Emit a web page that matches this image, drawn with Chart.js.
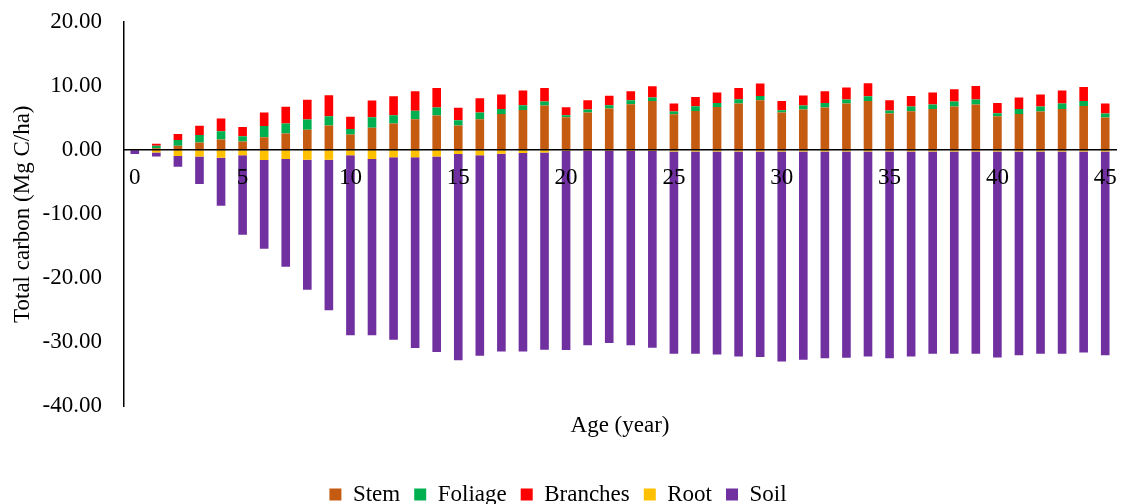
<!DOCTYPE html>
<html>
<head>
<meta charset="utf-8">
<script src="https://cdn.jsdelivr.net/npm/chart.js@4.4.1/dist/chart.umd.min.js"></script>
<style>
  html, body { margin: 0; padding: 0; background: #fff; }
  #wrap { width: 1121px; height: 504px; }
</style>
</head>
<body>
<div id="wrap"><canvas id="carbonChart" width="1121" height="504"></canvas></div>
<script>
// Stand age, years
const ages = Array.from({ length: 46 }, (_, i) => String(i));

// Above-ground pools (Mg C/ha)
const stem = [0, 0.3, 0.7, 1.2, 1.65, 1.35, 2.0, 2.6, 3.2, 3.85,
  2.45, 3.5, 4.15, 4.83, 5.4, 3.85, 4.83, 5.65, 6.28, 6.96,
  5.14, 5.87, 6.5, 7.17, 7.68, 5.6, 6.12, 6.74, 7.27, 7.79,
  5.87, 6.34, 6.65, 7.27, 7.68, 5.72, 6.07, 6.43, 6.8, 7.12,
  5.3, 5.65, 6.03, 6.43, 6.9, 5.1];
const foliage = [0, 0.4, 0.9, 1.15, 1.3, 0.83, 1.76, 1.56, 1.6, 1.45,
  0.83, 1.65, 1.3, 1.3, 1.25, 0.83, 1.04, 0.78, 0.73, 0.62,
  0.31, 0.47, 0.52, 0.62, 0.52, 0.42, 0.73, 0.62, 0.67, 0.67,
  0.36, 0.62, 0.72, 0.62, 0.73, 0.47, 0.73, 0.68, 0.78, 0.78,
  0.47, 0.78, 0.78, 0.84, 0.78, 0.62];
const branches = [0, 0.3, 0.9, 1.45, 2.0, 1.45, 2.13, 2.6, 3.07, 3.27,
  1.92, 2.6, 2.96, 3.07, 3.05, 1.92, 2.23, 2.24, 2.29, 2.12,
  1.25, 1.45, 1.45, 1.4, 1.76, 1.25, 1.45, 1.62, 1.76, 1.93,
  1.45, 1.56, 1.82, 1.87, 2.02, 1.6, 1.65, 1.87, 1.92, 2.12,
  1.6, 1.78, 1.87, 2.02, 2.18, 1.56];

// Below-ground pools (Mg C/ha), negative values
const root = [0, -0.35, -0.9, -1.0, -1.2, -0.8, -1.55, -1.4, -1.5, -1.5,
  -0.8, -1.4, -1.1, -1.1, -1.0, -0.6, -0.8, -0.55, -0.45, -0.35,
  -0.15, -0.1, -0.1, -0.15, -0.15, -0.2, -0.2, -0.2, -0.2, -0.2,
  -0.2, -0.2, -0.2, -0.2, -0.2, -0.2, -0.2, -0.2, -0.2, -0.2,
  -0.2, -0.2, -0.2, -0.2, -0.2, -0.2];
const soil = [-0.6, -0.65, -1.7, -4.3, -7.5, -12.4, -13.85, -16.8, -20.3, -23.5,
  -28.1, -27.5, -28.5, -29.8, -30.5, -32.2, -31.3, -30.9, -31.0, -30.8,
  -31.05, -30.35, -30.0, -30.3, -30.7, -31.6, -31.6, -31.7, -32.0, -32.1,
  -32.8, -32.5, -32.3, -32.2, -32.0, -32.3, -32.0, -31.6, -31.6, -31.6,
  -32.15, -31.8, -31.6, -31.6, -31.4, -31.8];

const yTicks = [-40, -30, -20, -10, 0, 10, 20];

const colors = {
  stem: '#C55A11',
  foliage: '#00B050',
  branches: '#FF0000',
  root: '#FFC000',
  soil: '#7030A0'
};

const serif = '"Liberation Serif", "Times New Roman", serif';
const fontSize = 23;

function bar(label, data, color) {
  return {
    label: label,
    data: data,
    backgroundColor: color,
    borderWidth: 0,
    barPercentage: 0.4,
    categoryPercentage: 1.0,
    xAxisID: 'x'
  };
}

const ctx = document.getElementById('carbonChart');

new Chart(ctx, {
  type: 'bar',
  data: {
    labels: ages,
    datasets: [
      bar('Stem', stem, colors.stem),
      bar('Foliage', foliage, colors.foliage),
      bar('Branches', branches, colors.branches),
      bar('Root', root, colors.root),
      bar('Soil', soil, colors.soil)
    ]
  },
  options: {
    responsive: false,
    animation: false,
    layout: {
      padding: { top: 22, right: 5, bottom: -12, left: 0 }
    },
    plugins: {
      legend: {
        position: 'bottom',
        labels: {
          boxWidth: 12,
          boxHeight: 12,
          padding: 14,
          color: '#000',
          font: { family: serif, size: fontSize }
        }
      },
      tooltip: { enabled: false }
    },
    scales: {
      // category axis sits on the zero line, labels and line drawn over the bars
      x: {
        type: 'category',
        stacked: true,
        position: { y: 0 },
        afterFit: (scale) => {
          scale.paddingLeft = 0;
          scale.paddingRight = 0;
        },
        grid: { display: false, drawTicks: false },
        border: { display: true, color: '#000', width: 1.5, z: 1 },
        ticks: {
          z: 1,
          autoSkip: false,
          maxRotation: 0,
          padding: 14,
          color: '#000',
          font: { family: serif, size: fontSize },
          callback: (value, index) => (index % 5 === 0 ? ages[index] : '')
        }
      },
      // bottom axis only carries the title
      x2: {
        type: 'category',
        position: 'bottom',
        grid: { display: false, drawTicks: false },
        border: { display: false },
        ticks: { display: false },
        title: {
          display: true,
          text: 'Age (year)',
          color: '#000',
          font: { family: serif, size: fontSize },
          padding: { top: 6, bottom: 29 }
        }
      },
      y: {
        stacked: true,
        min: -40,
        max: 20,
        afterFit: (scale) => { scale.width = 124; },
        afterBuildTicks: (scale) => {
          scale.ticks = yTicks.map(v => ({ value: v }));
        },
        // hidden tick marks keep the label gap without padding the top
        grid: { display: false, drawTicks: true, tickLength: 20 },
        border: { display: true, color: '#000', width: 1.5 },
        ticks: {
          padding: 2,
          color: '#000',
          font: { family: serif, size: fontSize },
          callback: (value) => Number(value).toFixed(2)
        },
        title: {
          display: true,
          text: 'Total carbon (Mg C/ha)',
          color: '#000',
          font: { family: serif, size: fontSize },
          padding: { top: 9, bottom: 0 }
        }
      }
    }
  }
});
</script>
</body>
</html>
